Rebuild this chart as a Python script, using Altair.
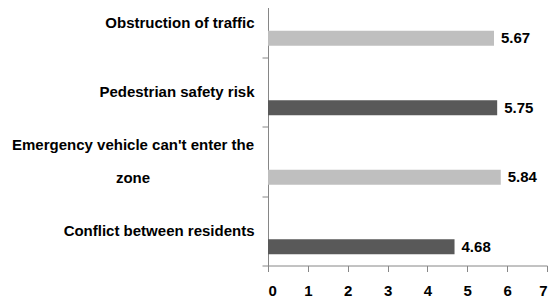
import altair as alt
import pandas as pd

categories = [
    "Obstruction of traffic",
    "Pedestrian safety risk",
    "Emergency vehicle can't enter the zone",
    "Conflict between residents",
]
values = [5.67, 5.75, 5.84, 4.68]
x_ticks = [0, 1, 2, 3, 4, 5, 6, 7]
bar_colors = ["#BFBFBF", "#595959", "#BFBFBF", "#595959"]

df = pd.DataFrame({
    "category": categories,
    "value": values,
    "label": [f"{v:.2f}" for v in values],
})

FONT = "Liberation Sans, Arial, sans-serif"
AXIS_GRAY = "#868686"
WRAPPED = "indexof(datum.category, ' the zone') >= 0"

y_enc = alt.Y(
    "category:N",
    sort=categories,
    title=None,
    scale=alt.Scale(paddingInner=0, paddingOuter=0),
    axis=alt.Axis(
        tickBand="extent",
        tickSize=6,
        tickColor=AXIS_GRAY,
        domainColor=AXIS_GRAY,
        labelFont=FONT,
        labelFontSize=15,
        labelFontWeight="bold",
        labelColor="#000000",
        labelLimit=400,
        labelPadding=8,
        labelOverlap=False,
        labelExpr="indexof(datum.label, ' the zone') >= 0 ? '' : datum.label",
    ),
)

x_enc = alt.X(
    "value:Q",
    title=None,
    scale=alt.Scale(domain=[0, 7], nice=False),
    axis=alt.Axis(
        values=x_ticks,
        tickCount=len(x_ticks),
        format="d",
        grid=False,
        tickSize=6,
        tickColor=AXIS_GRAY,
        domainColor=AXIS_GRAY,
        labelFont=FONT,
        labelFontSize=15,
        labelFontWeight="bold",
        labelColor="#000000",
        labelPadding=12,
        labelOverlap=False,
    ),
)

color_enc = alt.Color(
    "category:N",
    scale=alt.Scale(domain=categories, range=bar_colors),
    legend=None,
)

bars = alt.Chart(df).mark_bar(size=15, yOffset=16).encode(
    x=x_enc, y=y_enc, color=color_enc
)

texts = alt.Chart(df).mark_text(
    align="left", baseline="middle", dx=7, yOffset=16,
    font=FONT, fontSize=15, fontWeight="bold", color="#000000"
).encode(x="value:Q", y=alt.Y("category:N", sort=categories), text="label:N")

# Wrapped category label (two centred lines, like the original)
wrapped = alt.Chart(df).transform_filter(WRAPPED).transform_calculate(
    lines="split(replace(datum.category, ' the zone', ' the|zone'), '|')"
).mark_text(
    align="center", baseline="middle", lineHeight=33, dy=-16.5,
    font=FONT, fontSize=15, fontWeight="bold", color="#000000"
).encode(
    x=alt.value(-135),
    y=alt.Y("category:N", sort=categories),
    text="lines:N",
)

chart = alt.layer(bars, texts, wrapped).properties(
    width=279,
    height=278,
    autosize=alt.AutoSizeParams(type="none"),
    padding={"left": 260, "top": -20.5, "right": 4, "bottom": 37},
).configure_view(stroke=None)

chart.save("out.html", embed_options={"renderer": "svg", "actions": False})
